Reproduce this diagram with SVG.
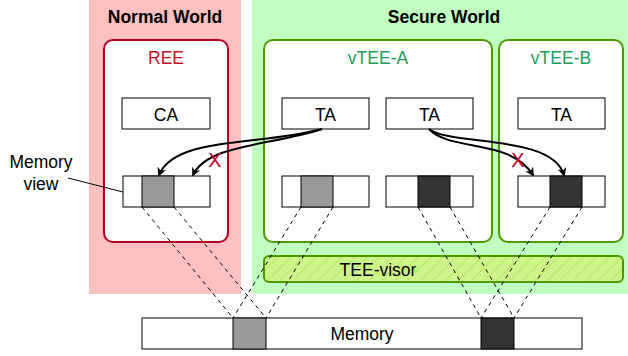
<svg xmlns="http://www.w3.org/2000/svg" width="628" height="356" viewBox="0 0 628 356">
<style>
text{font-family:"Liberation Sans",Arial,sans-serif;}
.t{font-size:17.5px;fill:#000;text-anchor:middle;}
.w{font-size:17.5px;font-weight:bold;fill:#000;text-anchor:middle;}
.box{fill:#fff;stroke:#000;stroke-width:1;}
.env-r{fill:#fff;stroke:#B5001F;stroke-width:2;}
.env-g{fill:#fff;stroke:#4D9900;stroke-width:2;}
.dash{stroke:#000;stroke-width:1;stroke-dasharray:4 4;fill:none;}
.arr{stroke:#000;stroke-width:2;fill:none;marker-end:url(#ah);}
.x{font-size:20px;fill:#C0002A;text-anchor:middle;}
.gray{fill:#999;stroke:#000;stroke-width:1;}
.dark{fill:#333;stroke:#000;stroke-width:1;}
</style>
<defs>
<marker id="ah" viewBox="0 0 10 10" refX="8" refY="5" markerWidth="4.5" markerHeight="4.5" orient="auto" markerUnits="strokeWidth">
<path d="M0,0 L10,5 L0,10 L3,5 Z" fill="#000"/>
</marker>
<pattern id="hatch" width="9" height="9" patternUnits="userSpaceOnUse" patternTransform="rotate(45)">
<rect width="9" height="9" fill="#CDF58B"/>
<line x1="0" y1="0" x2="0" y2="9" stroke="#B3E05A" stroke-width="1.5"/>
</pattern>
</defs>

<g id="normal-world">
<rect x="89" y="0" width="152" height="294" fill="#FFC0C0"/>
<text class="w" x="165" y="23">Normal World</text>
</g>
<g id="secure-world">
<rect x="252" y="0" width="376" height="294" fill="#C0FFC0"/>
<text class="w" x="444" y="23">Secure World</text>
</g>

<g id="ree">
<rect class="env-r" x="104" y="40" width="124" height="202" rx="9"/>
<text x="166" y="64" font-size="17.5" fill="#C0102A" text-anchor="middle">REE</text>
</g>
<g id="vtee-a">
<rect class="env-g" x="264" y="40" width="228" height="202" rx="9"/>
<text x="378" y="64" font-size="17.5" fill="#1A9E5A" text-anchor="middle">vTEE-A</text>
</g>
<g id="vtee-b">
<rect class="env-g" x="499" y="40" width="124" height="202" rx="9"/>
<text x="561" y="64" font-size="17.5" fill="#1A9E5A" text-anchor="middle">vTEE-B</text>
</g>

<g id="ca">
<rect class="box" x="122" y="98" width="88" height="31"/>
<text class="t" x="166" y="120.5">CA</text>
</g>
<g id="ta-a1">
<rect class="box" x="282" y="98" width="87" height="31"/>
<text class="t" x="325.5" y="120.5">TA</text>
</g>
<g id="ta-a2">
<rect class="box" x="386" y="98" width="87" height="31"/>
<text class="t" x="429.5" y="120.5">TA</text>
</g>
<g id="ta-b">
<rect class="box" x="518" y="98" width="87" height="31"/>
<text class="t" x="561.5" y="120.5">TA</text>
</g>

<g id="memview-ree">
<rect class="box" x="123" y="176" width="87" height="31"/>
<rect class="gray" x="142" y="176" width="32" height="31"/>
</g>
<g id="memview-a1">
<rect class="box" x="282" y="176" width="87" height="31"/>
<rect class="gray" x="301" y="176" width="32" height="31"/>
</g>
<g id="memview-a2">
<rect class="box" x="386" y="176" width="87" height="31"/>
<rect class="dark" x="418" y="176" width="32" height="31"/>
</g>
<g id="memview-b">
<rect class="box" x="518" y="176" width="87" height="31"/>
<rect class="dark" x="550" y="176" width="32" height="31"/>
</g>

<g id="tee-visor">
<rect x="264" y="256" width="359" height="26" rx="5" fill="url(#hatch)" stroke="#4D9900" stroke-width="2"/>
<text class="t" x="378" y="275.5">TEE-visor</text>
</g>

<g id="memory">
<rect class="box" x="142" y="318" width="440" height="31"/>
<rect class="gray" x="233" y="318" width="33" height="31"/>
<rect class="dark" x="481" y="318" width="33" height="31"/>
<text class="t" x="362" y="340">Memory</text>
</g>

<g id="memory-view-label">
<text x="41" y="168" font-size="17.5" text-anchor="middle">Memory</text>
<text x="41" y="190" font-size="17.5" text-anchor="middle">view</text>
</g>

<g id="connectors">
<line x1="68" y1="178" x2="123" y2="192" stroke="#000" stroke-width="1"/>
<line class="dash" x1="142" y1="207" x2="233" y2="318"/>
<line class="dash" x1="174" y1="207" x2="266" y2="318"/>
<line class="dash" x1="301" y1="207" x2="233" y2="318"/>
<line class="dash" x1="333" y1="207" x2="266" y2="318"/>
<line class="dash" x1="418" y1="207" x2="481" y2="318"/>
<line class="dash" x1="450" y1="207" x2="514" y2="318"/>
<line class="dash" x1="550" y1="207" x2="481" y2="318"/>
<line class="dash" x1="582" y1="207" x2="514" y2="318"/>
<path class="arr" d="M322,129 C260,146 175,136 159,175"/>
<path class="arr" d="M322,129 C270,146 208,144 193,175"/>
<path class="arr" d="M429,129 C450,152 510,138 533,175"/>
<path class="arr" d="M429,129 C450,146 552,134 564,175"/>
<text class="x" x="215" y="167">X</text>
<text class="x" x="518" y="167">X</text>
</g>
</svg>
